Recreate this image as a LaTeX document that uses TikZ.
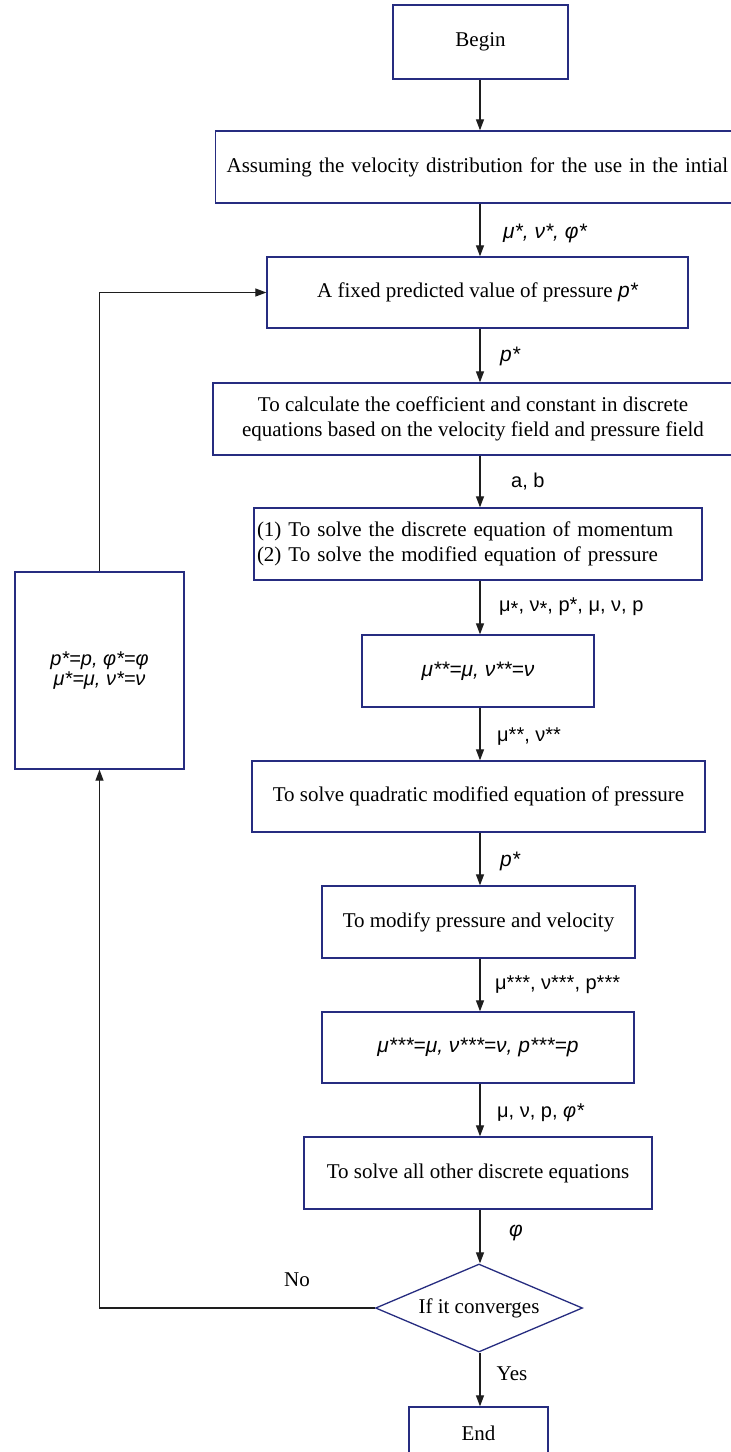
\documentclass[tikz,border=0pt]{standalone}
\usepackage{fontspec}
\setmainfont{Liberation Serif}
\newfontfamily\lab{Liberation Sans}
\usetikzlibrary{shapes.geometric,arrows.meta}
\definecolor{boxblue}{RGB}{38,44,128}
\definecolor{arrgray}{RGB}{30,30,30}
\begin{document}
\begin{tikzpicture}[x=1pt,y=-1pt,
  box/.style={draw=boxblue,line width=1.3pt,rectangle,inner sep=2pt,font=\fontsize{21}{25}\selectfont,align=center},
  arr/.style={draw=arrgray,line width=1.2pt,-{Triangle[length=11pt,width=8pt]}},
  lbl/.style={anchor=west,inner sep=0pt,font=\lab\fontsize{20}{22}\selectfont},
  ilbl/.style={anchor=west,inner sep=0pt,font=\lab\itshape\fontsize{21}{22}\selectfont},
  mbox/.style={font=\lab\itshape\fontsize{21}{23}\selectfont},
  tlbl/.style={inner sep=0pt,font=\fontsize{21}{24}\selectfont}]
\clip (0,0) rectangle (731,1452);
\fill[white] (0,0) rectangle (731,1452);
\coordinate (spine) at (480,0);
\node[box,minimum width=175pt,minimum height=74pt] (begin) at (480.5,42) {Begin};
\node[box,anchor=west,minimum height=72pt,text width=540pt,align=left,inner xsep=11pt] (assume) at (215,167) {Assuming the velocity distribution for the use in the intial};
\node[box,minimum width=421pt,minimum height=71pt] (fixed) at (477.5,292.5) {A fixed predicted value of pressure {\lab\itshape p*}};
\node[box,minimum width=520pt,minimum height=72pt] (calc) at (473,419) {To calculate the coefficient and constant in discrete\\equations based on the velocity field and pressure field};
\node[box,minimum height=72pt,text width=442pt,align=left,inner xsep=3pt] (solve) at (478,544) {(1) To solve the discrete equation of momentum\\(2) To solve the modified equation of pressure};
\node[box,mbox,minimum width=232pt,minimum height=72pt] (uu) at (478,671) {μ**=μ, ν**=ν};
\node[box,minimum width=453pt,minimum height=71pt] (quad) at (478.5,796.5) {To solve quadratic modified equation of pressure};
\node[box,minimum width=313pt,minimum height=72pt] (modify) at (478.5,922) {To modify pressure and velocity};
\node[box,mbox,minimum width=312pt,minimum height=71pt] (uuu) at (478,1047.5) {μ***=μ, ν***=ν, p***=p};
\node[box,minimum width=348pt,minimum height=72pt] (other) at (478,1173) {To solve all other discrete equations};
\node[box,shape=diamond,shape aspect=2.35,inner sep=0pt,minimum width=207pt,minimum height=88pt] (conv) at (479,1308) {If it converges};
\node[box,minimum width=139pt,minimum height=52pt] (end) at (478.5,1433) {End};
\node[box,minimum width=169pt,minimum height=197pt,font=\lab\itshape\fontsize{20}{20}\selectfont] (upd) at (99.5,670.5) {p*=p, φ*=φ\\μ*=μ, ν*=ν};
% vertical connectors
\draw[arr] (spine |- begin.south) -- (spine |- assume.north);
\draw[arr] (spine |- assume.south) -- (spine |- fixed.north);
\draw[arr] (spine |- fixed.south) -- (spine |- calc.north);
\draw[arr] (spine |- calc.south) -- (spine |- solve.north);
\draw[arr] (spine |- solve.south) -- (spine |- uu.north);
\draw[arr] (spine |- uu.south) -- (spine |- quad.north);
\draw[arr] (spine |- quad.south) -- (spine |- modify.north);
\draw[arr] (spine |- modify.south) -- (spine |- uuu.north);
\draw[arr] (spine |- uuu.south) -- (spine |- other.north);
\draw[arr] (spine |- other.south) -- (spine |- conv.north);
\draw[arr] (spine |- conv.south) -- (spine |- end.north);
% loop
\draw[arr] (conv.west) -| (upd.south);
\draw[arr] (upd.north) |- (fixed.west);
% labels
\node[ilbl] at (503,233) {μ*, ν*, φ*};
\node[ilbl] at (500,356) {p*};
\node[lbl] at (511,482) {a, b};
\node[lbl] at (499,607) {μ\raisebox{-0.35ex}{*}, ν\raisebox{-0.35ex}{*}, p*, μ, ν, p};
\node[lbl] at (497,737) {μ**, ν**};
\node[ilbl] at (500,861) {p*};
\node[lbl] at (495,985) {μ***, ν***, p***};
\node[lbl] at (497,1113) {μ, ν, p, \textit{φ*}};
\node[ilbl] at (509,1233) {φ};
\node[tlbl] at (297,1280) {No};
\node[tlbl] at (512,1374) {Yes};
\end{tikzpicture}
\end{document}
